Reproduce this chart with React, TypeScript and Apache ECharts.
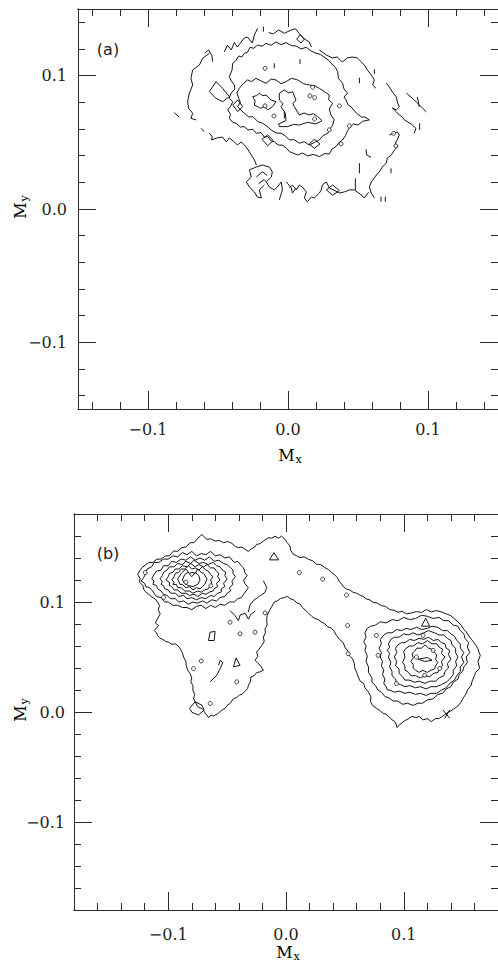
import React, { useEffect, useRef } from "react";
import * as echarts from "echarts";

// ---------- axes (data units) ----------
const aRange = [-0.15, 0.15];
const bRange = [-0.18, 0.18];
const aMinorTicks = [-0.14, -0.12, -0.1, -0.08, -0.06, -0.04, -0.02, 0, 0.02, 0.04, 0.06, 0.08, 0.1, 0.12, 0.14];
const bMinorTicks = [-0.16, -0.14, -0.12, -0.1, -0.08, -0.06, -0.04, -0.02, 0, 0.02, 0.04, 0.06, 0.08, 0.1, 0.12, 0.14, 0.16];
const majorTicks = [-0.1, 0, 0.1];

// ---------- panel (a) contour pieces, [Mx, My] in units of 0.001 ----------
const aOuterNW = [[-45.5,117.8],[-43.3,122.8],[-40.5,119.3],[-38.3,125],[-36.2,121.5],[-31.2,128.3],[-29,129],[-25.5,124.5],[-24,130.5],[-21.7,135.5]];
const aOuterTop = [[-13.8,132.3],[-10.5,131.3],[-6.7,134.3],[-2.6,131.8],[1.4,133.8],[5.2,135.3],[8.6,130.8],[11.7,127.5],[15.2,125.3],[16.7,121.5]];
const aOuterTopLoop = [[6.2,127.3],[8.8,130.8],[11.7,127.5],[9.3,124.5],[6.2,127.3]];
const aOuterNE = [[22.4,119.3],[27.4,115.5],[31.7,113.3],[35.2,114],[38.8,110.3],[42.4,113.3],[46,114],[49.5,113.3],[52.4,110.3],[54.5,108],[56.7,104.3],[59.5,100.5],[61.7,96.8],[60.5,93],[62.9,90.5]];
const aOuterEast = [[70.2,94.5],[72.4,91.5],[74.5,87.8],[77.4,84],[78.1,80.3],[79.5,76.5],[77.4,74.3],[74.5,75.8],[77.4,72.8],[79.5,70.5],[81.7,69],[83.1,66.8],[87.9,63.8],[91.4,60.5],[90.2,56.8]];
const aOuterDiag = [[84.5,87],[90.2,81.8],[95.9,75.8],[98.8,72.8]];
const aDiagTick = [[92.4,84],[93.8,76.5]];
const aOuterSE = [[72.4,55.5],[76,57],[78.1,57.8],[79.5,55.5],[78.1,51.8],[76.7,49.5],[78.1,46.5],[76,44.3],[73.8,40.5],[71,38.3],[70.2,34.5],[67.4,31.5],[65.2,27.8],[63.1,25.5],[61.7,23.3],[59.5,20.3],[58.1,16.5],[59.5,12],[61.7,8.3]];
const aOuterSouth = [[1,15.8],[3.1,18],[6,14.3],[8.1,18],[10.2,16.5],[13.1,12.8],[11.7,8.3],[13.8,5.3],[16.7,9],[18.8,8.3],[22.4,12],[23.8,14.3],[24.5,18],[27.4,20.3],[29.5,15.8],[36.7,12],[40.2,12.8],[43.8,14.3],[47.4,14.3],[52.4,10.5],[54.5,8.3],[57.5,12.5]];
const aSouthDiamond = [[27.4,14.3],[31.9,18],[36.7,13.8],[31.9,10.3],[27.4,14.3]];
const aLobeArch = [[-26.2,24],[-27.6,29.3],[-22.6,31.5],[-18.3,33],[-13.3,31.5],[-11.2,27.8],[-11.9,24],[-15.5,20.3],[-13.3,16.5],[-9.8,14.3],[-7.6,16.5],[-4.8,20.3],[-4,14.3],[-6.2,6.8]];
const aLobeLeft = [[-26.2,24],[-29.8,20.3],[-27.6,16.5],[-24,12.8],[-21.9,9],[-19,8.3],[-20.5,14.3],[-16.9,18]];
const aLobeInner = [[-22.6,24],[-18.3,28],[-14.8,25]];
const aLobeInner2 = [[-21,19],[-17,22],[-15.5,20.3]];
const aSouthStub = [[-1.2,20.3],[2.4,15.8],[3.1,12],[6,15.8]];
const aOuterWest = [[-56.2,116.8],[-61,113],[-63.3,108],[-68.1,104.3],[-69.3,98],[-68.1,93],[-70.5,86.8],[-71.7,80.5],[-71,75.5],[-68.1,71.8],[-69.3,68],[-65.7,66.8]];
const aWestV = [[-59.5,116.8],[-56.7,119.3],[-54.3,114.8],[-53.8,110.5]];
const aWestDash = [[-81.2,72.3],[-77.6,68.8]];
const aWestDash2 = [[-62.1,60.5],[-59.8,58]];
const aOuterSW = [[-56.2,57],[-54,54],[-54.8,51.8],[-50.5,53.3],[-46.9,54],[-44,50.3],[-41.9,53.3],[-38.3,50.3],[-36.2,48],[-33.3,50.3],[-29.8,46.5],[-27.6,42.8],[-26.2,40.5],[-24,36.8],[-22.6,33]];
const aWestLoop = [[-56.2,88],[-51.4,95.5],[-46.7,90.5],[-41.9,84.3],[-46.7,80.5],[-51.4,83],[-56.2,88]];
const aRing2 = [[-39.5,109.3],[-37.5,111],[-35.2,114.8],[-33,114],[-31.2,116.8],[-29,117.5],[-27.1,121.3],[-24.5,120.5],[-21.7,123],[-18.5,122],[-15.7,124.3],[-12,122.8],[-8.6,125.3],[-5,123.3],[-1.4,124.8],[2.5,122.5],[5.7,122.3],[9.5,120],[12.9,121.3],[16.5,118.5],[20,116.8],[23,116],[26,113.8],[29,111.5],[31.9,108],[34,106],[35.5,103],[36,98],[39,94.3],[40,90],[42.6,86.8],[40,84],[41.4,81.8],[43,78],[45.2,76.5],[48.8,72],[52.4,69],[55,69],[58.1,66.8],[53.3,65.8],[50,63],[46.7,63.8],[44,61],[42.6,58.8],[41,55],[39,51.8],[36.5,50],[34.3,46.8],[31.5,45],[29.5,41.3],[26,41.5],[22.4,39.3],[18,41],[14,39.8],[10.5,42],[6.9,40.5],[3.5,42],[1,43],[-1,45.5],[-3.8,47.8],[-7,48],[-9.8,50.5],[-12,51],[-14.5,54.3],[-17,54],[-19.3,57.3],[-22.5,56.8],[-25.2,59.8],[-28.5,59.3],[-31.2,61.8],[-34,61.5],[-37.1,64.3],[-39.5,65],[-41.9,68],[-41,71],[-43.1,74.3],[-41,77],[-39.5,80.5],[-42,83],[-40.7,86.8],[-38,90],[-38.3,93],[-40.5,96],[-41.9,99.3],[-40,104],[-39.5,109.3]];
const aRing2Loop = [[-18.6,52.3],[-14.5,55.5],[-10.5,51.3],[-14.5,47.5],[-18.6,52.3]];
const aRing3Loop = [[15.2,48.8],[18.8,52.3],[22.9,48.8],[18.8,45.5],[15.2,48.8]];
const aRing3 = [[-34.8,90.5],[-32,94],[-28.8,96.8],[-26,95.5],[-22.9,98],[-19,96],[-15.7,94.3],[-12,97.5],[-8.6,96.8],[-5,94],[-1.4,95.5],[2.5,98],[6.9,96.8],[11,94],[15.2,93],[19,92.5],[22.4,90.5],[26,88],[29.5,85.5],[29,82],[31.9,79.3],[29.5,75],[30.7,70.5],[33,67],[31.9,63],[30,60],[28.3,56.8],[25,55],[22.4,51.8],[19,50],[15.2,48],[11.5,50.5],[8.1,49.3],[4.5,52],[1,51.8],[-2,55],[-5,56.8],[-8.5,57],[-12.1,59.3],[-15,62],[-18.1,64.3],[-21.5,65.5],[-25.2,69.3],[-28,69],[-31.2,71.8],[-33.5,74],[-36,76.8],[-34,80],[-35.2,83],[-36.5,87],[-34.8,90.5]];
const aRing3West = [[-39.5,78],[-35.9,81.8],[-32.4,76.8],[-35.9,73],[-39.5,78]];
const aRing4a = [[-25.2,84.3],[-22.5,85],[-20.5,86.8],[-18,85],[-15.7,85.5],[-12.1,81.8],[-8.6,80.5],[-11,76.8],[-14.5,74.3],[-17,77],[-19.3,75.5],[-24,78],[-23.5,81],[-25.2,84.3]];
const aRing4b = [[-6.2,86.8],[-2.6,89.3],[0.5,87],[3.3,88],[5.7,81.8],[3.5,79],[4.5,76.8],[8.1,70.5],[11.5,72],[15.2,70.5],[18,71.5],[21.2,69.3],[24.3,66.3],[20,63.8],[14,65],[8.1,63],[4,63.5],[-0.2,61.8],[-6.2,61.8],[-6.7,63.8],[-1.4,66.3],[-1.9,71.8],[-5,76.8],[-3.5,79],[-6.2,81.8],[-6.2,86.8]];
const aTickMarks = [
  [[-17.6,136.8],[-17.6,133]], [[-9.8,109.3],[-9.8,105.5]], [[8.6,112.3],[8.6,108.8]],
  [[51,98.5],[51,94.3]], [[61.7,104.8],[61.7,101.3]], [[94,64.3],[94,59.3]],
  [[51,34.3],[51,26.8]], [[48.1,23],[48.1,14.3]], [[66.4,9.3],[66.4,5.5]],
  [[69.5,9.3],[69.5,5.5]], [[73.6,30.5],[73.6,26.8]], [[-2.6,73],[-2.6,68]],
  [[55.7,44.8],[56.2,40.5],[59.3,38.8]],
];
const aDots = [[-16.4,105.5],[17.6,91.3],[15.7,84.8],[19,83.5],[-16.4,77.3],[-10,69.8],[36.7,77.3],[29.5,59.3],[19,67.5],[43.8,62.3],[37.9,48.8],[75.5,56.8],[77.1,47.3]];

// ---------- panel (b) contour pieces, [Mx, My] in units of 0.001 ----------
const bOuter = [[-126,125.3],[-122.3,131.3],[-116.7,135.8],[-113,136],[-109.6,138.9],[-106,139],[-102.5,141.9],[-99,142],[-95.5,146.4],[-92,146],[-88.4,149.4],[-85,150],[-81.4,153.9],[-78,154],[-75.7,156.9],[-71.5,161.4],[-67.2,156.9],[-64,157.5],[-60.2,155.4],[-56.5,156],[-53.1,153.9],[-49.5,155],[-46,153.3],[-43,150.5],[-40.4,149.4],[-37.5,150],[-34.7,147.9],[-32,146],[-29.1,148.5],[-26.5,150],[-24.9,152.4],[-22,153],[-19.2,155.4],[-17,157],[-15,158.4],[-12,158],[-9.3,159.9],[-6.5,158],[-3.7,159.9],[-0.8,156.9],[1,154],[3.4,150.9],[4,147],[6.2,143.4],[9,142],[11.9,140.4],[15.5,141],[18.9,138.9],[22.5,137.5],[26,134.3],[29.5,134],[33,131.3],[36,129.5],[38.7,126.8],[41,125],[43.5,122.3],[45,119],[47.2,116.3],[49,113.5],[51.4,111.7],[54,111],[57.1,108.7],[60,108],[62.7,106.3],[65.5,105],[68.4,102.7],[71,102],[74,99.7],[77.5,99],[81.1,96.7],[84.5,96],[88.1,93.1],[91.5,92.5],[95.2,90.7],[98.5,91.5],[102.3,89.2],[106.5,90],[110.7,91.3],[115,90.5],[119.2,93.1],[123.5,91],[127.7,92.2],[132,91],[136.2,89.2],[140,87.5],[143.2,84.6],[146,82],[148.9,78.6],[151,75],[153.1,72.6],[156,68],[158.2,65.1],[161,61],[163,57.5],[164,54],[165,51.5],[163,46],[164.4,39.5],[161,36],[160.2,33.4],[158,28],[157.3,24.4],[154,20],[153.1,16.9],[150,12],[148.9,9.3],[146,5.5],[143.2,3.3],[140,1],[137.6,-0.3],[134,-3],[130.5,-5.7],[127,-6],[123.4,-8.7],[120,-6],[116.4,-7.2],[113,-4],[110.7,-5.1],[107,-4],[103.7,-6.3],[100.5,-8],[98,-10.2],[96,-12],[94.4,-14.2],[93.5,-11],[92.4,-8.7],[90,-7],[88.1,-5.1],[85,-2],[82.5,-1.2],[79.5,1.5],[76.8,3.3],[73.5,6],[71.8,9.3],[72,14],[69.8,18.4],[67,22],[66.1,25.9],[63,28],[61.3,31.9],[60,36],[58.5,39.5],[58,44],[56.5,48.5],[54,51],[52.8,55.1],[50,59],[48.6,63],[45.5,66],[42.9,69.6],[41,73],[38.7,76.2],[35.5,77.5],[33,80.1],[30,82],[27.4,84],[24.5,85],[21.8,87],[19,90],[16.9,92.2],[14,95],[11.9,98.2],[9,99.5],[6.2,102.1],[3.5,103],[1.1,105.1],[-1.5,104],[-4.5,103.3],[-7.5,101],[-10.2,99.7],[-12,96],[-13.6,93.1],[-16,88],[-16.4,83.1],[-16,79],[-17.8,75.6],[-17.5,72],[-19.2,68.1],[-18.5,64],[-20.6,60.5],[-23,57],[-24.9,54.5],[-24,50.5],[-26.3,47],[-24,44.5],[-22,42.5],[-19.2,38],[-22,36.5],[-24.9,35.8],[-27,33],[-29.9,31.9],[-30,28],[-31.9,24.4],[-32.5,21.5],[-34.7,19],[-37,16.5],[-39.5,15.4],[-42,13],[-44.6,12.3],[-46,10],[-47.5,7.8],[-50,6],[-51.7,3.3],[-54,2],[-55.9,0.3],[-58.5,-2],[-61.6,-3.6],[-63.5,-3],[-65.8,-5.1],[-67,-3],[-68.6,-1.2],[-70,1.5],[-71.5,3.3],[-74,4],[-75.7,6.3],[-77,9],[-78.5,12.3],[-77.5,16],[-79.1,19.9],[-79,24],[-80.8,27.4],[-80,31],[-81.4,34.9],[-83.5,38],[-84.7,42.5],[-85,46],[-87,50],[-88,54],[-89.8,57.5],[-91.5,60],[-94.1,62],[-97,61.5],[-99.7,63.6],[-102,64],[-104.5,66],[-107,67],[-109,69.6],[-110,72],[-111.9,74.1],[-108.2,78.6],[-111,81],[-109.6,84],[-106.8,89.2],[-108.5,93],[-107.3,96.7],[-109,100],[-111,102.7],[-114,104.5],[-116.7,107.2],[-119,109],[-120.9,111.7],[-121.5,115],[-124.3,117.8],[-124,121.5],[-126,125.3]];
const bL2 = [[-121,122],[-119,126],[-118,130],[-114,132],[-112,136],[-108,136],[-104,139],[-100,139],[-96,142],[-92,141],[-88,145],[-84,143],[-80,146],[-76,142],[-72,144],[-68,143],[-64,146],[-60,142],[-56,143],[-52,140],[-48,141],[-44,136],[-41,137],[-38,133],[-36,131],[-35,127],[-33,124],[-36,120],[-35,117],[-32,113],[-34,110],[-36,107],[-38,104],[-41,103],[-44,100],[-48,100],[-52,97],[-56,98],[-60,95],[-64,97],[-68,94],[-72,97],[-76,96],[-80,93],[-84,95],[-88,95],[-92,97],[-96,97],[-100,100],[-103,100],[-106,104],[-110,105],[-112,108],[-114,111],[-116,113],[-119,114],[-120,117],[-123,119],[-121,122]];
const bL3 = [[-114,121],[-112,125],[-110,128],[-106,129],[-104,133],[-100,133],[-97,137],[-93,136],[-89,139],[-85,138],[-81,141],[-77,138],[-73,140],[-69,138],[-65,141],[-61,137],[-57,138],[-53,135],[-50,134],[-47,131],[-45,129],[-45,126],[-43,123],[-46,119],[-45,116],[-48,113],[-47,110],[-50,108],[-52,105],[-56,104],[-59,101],[-63,102],[-67,99],[-71,101],[-75,99],[-79,100],[-83,98],[-87,101],[-91,100],[-94,103],[-98,103],[-101,106],[-104,107],[-106,110],[-109,112],[-110,115],[-113,116],[-112,119],[-114,121]];
const bL4 = [[-107,121],[-105,124],[-104,127],[-101,129],[-99,132],[-95,132],[-92,135],[-88,134],[-85,137],[-81,135],[-78,138],[-74,135],[-70,136],[-66,134],[-62,136],[-59,133],[-56,132],[-54,129],[-51,127],[-52,124],[-50,121],[-53,117],[-52,114],[-55,112],[-55,109],[-58,108],[-61,105],[-64,106],[-68,103],[-72,104],[-76,102],[-80,104],[-84,103],[-87,106],[-91,105],[-94,108],[-98,108],[-100,111],[-103,112],[-104,115],[-106,116],[-105,119],[-107,121]];
const bL5 = [[-102,120],[-100,123],[-99,126],[-96,127],[-94,130],[-91,130],[-88,133],[-84,132],[-81,135],[-77,132],[-74,134],[-70,132],[-67,134],[-64,131],[-61,131],[-59,128],[-57,126],[-58,123],[-56,120],[-59,117],[-58,114],[-61,112],[-62,110],[-65,109],[-68,107],[-71,108],[-75,105],[-78,107],[-82,106],[-85,108],[-89,108],[-92,111],[-95,111],[-97,114],[-99,115],[-99,118],[-102,120]];
const bL6 = [[-97,120],[-95,123],[-94,126],[-91,127],[-89,130],[-86,130],[-83,133],[-80,130],[-77,131],[-74,129],[-71,132],[-68,129],[-66,128],[-64,125],[-62,123],[-64,120],[-63,117],[-65,114],[-66,112],[-69,111],[-72,109],[-75,110],[-79,108],[-82,110],[-86,110],[-89,113],[-92,113],[-93,116],[-96,116],[-95,118],[-97,120]];
const bL7 = [[-92,121],[-89,126],[-85,130],[-82,126],[-80,127],[-77,126],[-75,130],[-72,127],[-70,126],[-67,121],[-69,116],[-71,114],[-73,112],[-76,113],[-79,111],[-82,114],[-85,113],[-88,116],[-90,116],[-92,121]];
const bL8 = [[-88,120],[-86,125],[-83,127],[-80,123],[-77,127],[-74,124],[-73,120],[-75,116],[-79,114],[-83,115],[-86,117],[-88,120]];
const bR2 = [[67,72],[69,76],[72,78],[76,79],[80,82],[85,81],[90,84],[95,83],[100,86],[105,84],[110,85],[115,88],[120,87],[125,85],[130,86],[134,83],[138,83],[142,79],[146,78],[148,74],[151,71],[152,67],[155,63],[154,59],[156,54],[153,50],[154,45],[151,41],[150,37],[147,34],[146,30],[142,27],[140,23],[136,21],[133,17],[129,16],[125,12],[120,11],[116,8],[112,8],[108,6],[103,8],[99,7],[95,10],[91,10],[87,13],[84,14],[81,18],[78,20],[76,24],[73,27],[73,31],[70,36],[70,41],[68,46],[69,51],[67,56],[68,60],[66,64],[68,68],[67,72]];
const bR3 = [[80,66],[83,70],[86,72],[90,72],[94,75],[98,74],[102,76],[106,75],[111,77],[115,75],[120,76],[124,78],[129,77],[133,74],[137,74],[140,71],[143,69],[145,65],[148,62],[148,58],[151,54],[149,50],[151,45],[148,41],[148,37],[145,33],[143,29],[139,26],[136,22],[132,20],[128,17],[123,17],[119,15],[114,17],[110,16],[105,18],[101,17],[96,19],[92,18],[88,20],[86,20],[85,23],[83,26],[84,30],[82,34],[83,38],[81,42],[82,46],[80,50],[81,54],[79,58],[81,62],[80,66]];
const bR4 = [[87,62],[89,66],[92,68],[96,68],[100,71],[104,70],[108,72],[112,70],[117,72],[121,74],[126,72],[130,70],[134,70],[137,67],[140,65],[141,61],[144,58],[144,54],[146,50],[144,46],[145,42],[142,38],[142,34],[139,30],[136,27],[132,25],[128,23],[123,23],[119,21],[114,23],[110,22],[105,24],[101,23],[97,25],[94,26],[93,30],[90,33],[90,37],[88,41],[89,45],[87,50],[88,53],[86,56],[88,59],[87,62]];
const bR5 = [[93,58],[95,61],[98,63],[101,63],[105,66],[109,65],[113,67],[117,66],[121,68],[125,65],[129,66],[132,63],[135,62],[136,58],[139,56],[138,52],[140,48],[137,44],[138,40],[135,37],[134,33],[130,31],[127,28],[122,28],[118,26],[113,28],[109,27],[105,29],[101,29],[99,32],[96,35],[96,39],[93,42],[94,46],[92,50],[94,54],[93,58]];
const bR6 = [[100,55],[102,58],[105,60],[108,60],[112,63],[116,62],[120,65],[124,62],[128,62],[130,59],[133,57],[132,53],[135,50],[132,46],[133,42],[130,39],[129,36],[125,35],[122,32],[118,33],[114,31],[110,33],[106,33],[104,36],[101,38],[101,42],[99,45],[101,50],[100,55]];
const bR7 = [[107,53],[109,55],[111,58],[115,58],[118,61],[121,58],[124,57],[126,54],[128,52],[127,48],[129,45],[127,42],[126,39],[123,38],[120,36],[116,38],[113,36],[110,38],[108,40],[108,43],[106,46],[108,49],[107,53]];
const bR8 = [[112,48],[118,46],[124,47],[120,49.5],[112,48]];
const bBridgeTri = [[-14.1,138.3],[-10.2,144.9],[-6.2,138.3],[-14.1,138.3]];
const bRightTri = [[115,78],[118.6,85.2],[122,78],[115,78]];
const bTailLoop1 = [[-65.8,65],[-64.4,72.6],[-60.2,73.2],[-61,65],[-65.8,65]];
const bTailLoop2 = [[-44.6,41],[-42.4,49.1],[-39,42.5],[-44.6,41]];
const bTailStroke = [[-64.4,27.4],[-58.8,33.4],[-55.9,39.5],[-53.7,44.9],[-55.9,47],[-57.3,42.5]];
const bTailFoot = [[-81.9,3.3],[-77.1,9.3],[-71.5,6.3],[-69.5,1.8],[-74.3,-2.7],[-79.9,-0.3],[-81.9,3.3]];
const bNeck = [[-19.2,119.3],[-16.4,113.3],[-17.8,108.7],[-22,105.7],[-27.7,101.2],[-30.5,97.3],[-32,90.7]];
const bNeck2 = [[-47.5,92.2],[-43.2,87.5],[-40.4,83.1],[-39,88.1],[-34.7,89.8],[-31.9,84.3],[-29.9,88.7],[-26.3,91.6]];
const bCross1 = [[133.3,1.8],[139,-5.7]];
const bCross2 = [[139,1.8],[134.7,-5.7]];
const bDots = [[-119.5,126.8],[-104,104.2],[-63.8,114.8],[-47.5,81.6],[-39,71.1],[-26.3,72.6],[-17.8,90.1],[11.3,126.8],[31.1,120.8],[51.4,106.3],[52.3,78.6],[52.8,53],[76.8,69.6],[78.2,51.5],[93.8,25.9],[-78.5,39.5],[-41.8,27.4],[-64.4,7.8],[-72,46.4],[116.4,69.6],[124.9,56],[130.5,39.5],[117.8,33.4],[110.7,50],[-85,118]];

const panelA = [aOuterNW, aOuterTop, aOuterTopLoop, aOuterNE, aOuterEast, aOuterDiag, aDiagTick, aOuterSE, aOuterSouth, aSouthDiamond, aLobeArch, aLobeLeft, aLobeInner, aLobeInner2, aSouthStub, aOuterWest, aWestV, aWestDash, aWestDash2, aOuterSW, aWestLoop, aRing2, aRing2Loop, aRing3Loop, aRing3, aRing3West, aRing4a, aRing4b, ...aTickMarks];
const panelB = [bOuter, bL2, bL3, bL4, bL5, bL6, bL7, bL8, bR2, bR3, bR4, bR5, bR6, bR7, bR8, bBridgeTri, bRightTri, bTailLoop1, bTailLoop2, bTailStroke, bTailFoot, bNeck, bNeck2, bCross1, bCross2];

const INK = "#151515";
const FRAME = "#2a2a2a";
const SERIF = "'DejaVu Serif', 'Liberation Serif', serif";

const fmt = (v: number) => {
  const r = Math.round(v * 10) / 10;
  if (r === 0) return "0.0";
  return (r < 0 ? "\u2212" : "") + Math.abs(r).toFixed(1);
};

function makeAxes(dim: "x" | "y", gridIndex: number, range: number[], minor: number[], labelMargin: number) {
  const pos = dim === "x" ? ["bottom", "top"] : ["left", "right"];
  const common = {
    type: "value",
    gridIndex,
    min: range[0],
    max: range[1],
    splitLine: { show: false },
    axisLine: { show: true, onZero: false, lineStyle: { color: FRAME, width: 1 } },
  };
  const tick = (vals: number[], len: number) => ({
    show: true, inside: true, length: len, customValues: vals, lineStyle: { color: FRAME, width: 1 },
  });
  return [
    { ...common, position: pos[0], axisTick: tick(minor, 7), axisLabel: { show: false } },
    {
      ...common, position: pos[0], axisTick: tick(majorTicks, 18),
      axisLabel: { show: true, customValues: majorTicks, formatter: fmt, margin: labelMargin, fontFamily: SERIF, fontSize: 16, color: "#222" },
    },
    { ...common, position: pos[1], axisTick: tick(minor, 7), axisLabel: { show: false } },
    { ...common, position: pos[1], axisTick: tick(majorTicks, 18), axisLabel: { show: false } },
  ];
}

const toCoords = (pieces: number[][][]) => pieces.map((p) => ({ coords: p.map(([x, y]) => [x / 1000, y / 1000]) }));
const toPts = (pts: number[][]) => pts.map(([x, y]) => [x / 1000, y / 1000]);

const nameRich = {
  m: { fontFamily: SERIF, fontSize: 16, color: "#222" },
  s: { fontFamily: SERIF, fontSize: 11, color: "#222", padding: [9, 0, 0, 1] },
};

export default function App() {
  const ref = useRef<HTMLDivElement>(null);
  useEffect(() => {
    if (!ref.current) return;
    const chart = echarts.init(ref.current, undefined, { renderer: "svg" });
    const option: any = {
      animation: false,
      backgroundColor: "#ffffff",
      grid: [
        { left: 78, top: 9, width: 420, height: 400, outerBoundsMode: "none", containLabel: false },
        { left: 74, top: 514, width: 424, height: 396, outerBoundsMode: "none", containLabel: false },
      ],
      xAxis: [...makeAxes("x", 0, aRange, aMinorTicks, 12), ...makeAxes("x", 1, bRange, bMinorTicks, 16)],
      yAxis: [...makeAxes("y", 0, aRange, aMinorTicks, 11), ...makeAxes("y", 1, bRange, bMinorTicks, 9)],
      series: [
        {
          type: "lines", coordinateSystem: "cartesian2d", xAxisIndex: 0, yAxisIndex: 0, polyline: true, silent: true,
          data: toCoords(panelA), lineStyle: { color: INK, width: 1, opacity: 1, curveness: 0 },
        },
        {
          type: "scatter", xAxisIndex: 0, yAxisIndex: 0, silent: true, symbol: "circle", symbolSize: 4,
          data: toPts(aDots), itemStyle: { color: "#fff", borderColor: INK, borderWidth: 1 },
        },
        {
          type: "lines", coordinateSystem: "cartesian2d", xAxisIndex: 4, yAxisIndex: 4, polyline: true, silent: true,
          data: toCoords(panelB), lineStyle: { color: INK, width: 1, opacity: 1, curveness: 0 },
        },
        {
          type: "scatter", xAxisIndex: 4, yAxisIndex: 4, silent: true, symbol: "circle", symbolSize: 4,
          data: toPts(bDots), itemStyle: { color: "#fff", borderColor: INK, borderWidth: 1 },
        },
      ],
      graphic: [
        { type: "text", x: 108, y: 49, style: { text: "(a)", font: "16px 'DejaVu Sans', sans-serif", fill: "#222", textAlign: "center", textVerticalAlign: "middle" } },
        { type: "text", x: 108, y: 553, style: { text: "(b)", font: "16px 'DejaVu Sans', sans-serif", fill: "#222", textAlign: "center", textVerticalAlign: "middle" } },
        { type: "text", x: 290, y: 455, style: { text: "{m|M}{s|x}", rich: nameRich, textAlign: "center", textVerticalAlign: "middle" } },
        { type: "text", x: 288, y: 952, style: { text: "{m|M}{s|x}", rich: nameRich, textAlign: "center", textVerticalAlign: "middle" } },
        { type: "text", x: 20, y: 207, rotation: Math.PI / 2, style: { text: "{m|M}{s|y}", rich: nameRich, textAlign: "center", textVerticalAlign: "middle" } },
        { type: "text", x: 20, y: 710, rotation: Math.PI / 2, style: { text: "{m|M}{s|y}", rich: nameRich, textAlign: "center", textVerticalAlign: "middle" } },
      ],
    };
    chart.setOption(option);
    return () => chart.dispose();
  }, []);
  return <div ref={ref} style={{ position: "absolute", left: 0, top: 0, width: 498, height: 965 }} />;
}
